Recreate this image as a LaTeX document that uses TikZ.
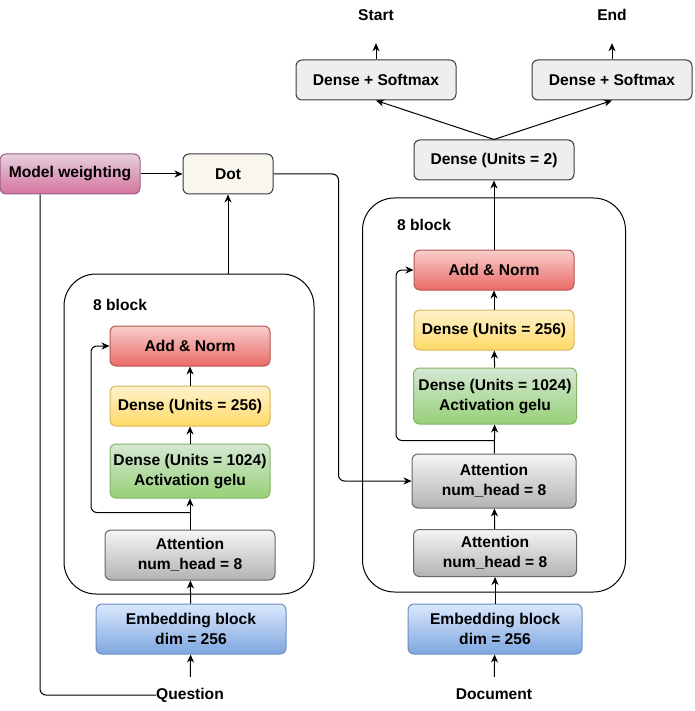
\documentclass[tikz,border=0pt]{standalone}
\usepackage{fontspec}
\setmainfont{Liberation Sans}
\usetikzlibrary{arrows.meta,calc}
\definecolor{pinktop}{HTML}{E6D0DE}
\definecolor{pinkbot}{HTML}{D5739D}
\definecolor{pinkline}{HTML}{996185}
\definecolor{dotfill}{HTML}{F9F7ED}
\definecolor{darkline}{HTML}{36393D}
\definecolor{redtop}{HTML}{F8CECC}
\definecolor{redbot}{HTML}{EA6B66}
\definecolor{redline}{HTML}{B85450}
\definecolor{yeltop}{HTML}{FFF2CC}
\definecolor{yelbot}{HTML}{FFD966}
\definecolor{yelline}{HTML}{D6B656}
\definecolor{grntop}{HTML}{D5E8D4}
\definecolor{grnbot}{HTML}{97D077}
\definecolor{grnline}{HTML}{82B366}
\definecolor{graytop}{HTML}{F5F5F5}
\definecolor{graybot}{HTML}{B3B3B3}
\definecolor{grayline}{HTML}{666666}
\definecolor{bluetop}{HTML}{DAE8FC}
\definecolor{bluebot}{HTML}{7EA6E0}
\definecolor{blueline}{HTML}{6C8EBF}
\definecolor{softfill}{HTML}{EEEEEE}

\begin{document}
\begin{tikzpicture}[x=1pt,y=-1pt]
\tikzstyle{main}=[rectangle, rounded corners=6pt, draw, line width=1pt, align=center, inner sep=0pt, font=\fontsize{15.6}{20}\selectfont\bfseries, minimum width=160pt, minimum height=40pt]
\tikzstyle{pinkbox}=[main, draw=pinkline, top color=pinktop, bottom color=pinkbot]
\tikzstyle{dotbox}=[main, draw=darkline, fill=dotfill]
\tikzstyle{softbox}=[main, draw=darkline, fill=softfill]
\tikzstyle{addbox}=[main, draw=redline, top color=redtop, bottom color=redbot]
\tikzstyle{densebox}=[main, draw=yelline, top color=yeltop, bottom color=yelbot]
\tikzstyle{actbox}=[main, draw=grnline, top color=grntop, bottom color=grnbot]
\tikzstyle{attbox}=[main, draw=grayline, top color=graytop, bottom color=graybot]
\tikzstyle{embbox}=[main, draw=blueline, top color=bluetop, bottom color=bluebot]
\tikzstyle{blockbox}=[rectangle, rounded corners=32pt, draw=black, line width=1pt]
\tikzstyle{txt}=[inner sep=0pt, font=\fontsize{15.6}{20}\selectfont\bfseries, text height=11pt, text depth=3pt]
\tikzstyle{connect}=[-{Stealth[length=8pt,width=7pt,inset=2.5pt]}, line width=1pt]

  \useasboundingbox (0,0) rectangle (694,711);

  \node[blockbox, minimum width=250pt, minimum height=320pt] (blockL) at (189,434) {};
  \node[blockbox, minimum width=263pt, minimum height=394pt] (blockR) at (494,395) {};
  \node[txt, anchor=west] (nblockL) at (93,306) {8 block};
  \node[txt, anchor=west] (nblockR) at (397,226) {8 block};

  \node[pinkbox, minimum width=140pt] (weight) at (70,174)  {Model weighting};
  \node[dotbox, minimum width=90pt]   (dot)    at (228,174) {Dot};

  \node[addbox]   (addL)   at (190,346) {Add \& Norm};
  \node[densebox] (denseL) at (190,406) {Dense (Units = 256)};
  \node[actbox, minimum height=54pt]  (actL) at (190,471)   {Dense (Units = 1024)\\Activation gelu};
  \node[attbox, minimum width=170pt, minimum height=50pt] (attL) at (190,555) {Attention\\num\_head = 8};
  \node[embbox, minimum width=190pt, minimum height=50pt] (embL) at (191,629) {Embedding block\\dim = 256};
  \node[txt] (question) at (190,695) {Question};

  \node[txt] (start) at (376,17)  {Start};
  \node[txt] (end)   at (612,17)  {End};
  \node[softbox] (softL) at (376,80)  {Dense + Softmax};
  \node[softbox] (softR) at (612,80)  {Dense + Softmax};
  \node[softbox] (dense2) at (494,160) {Dense (Units = 2)};

  \node[addbox]   (addR)   at (494,270) {Add \& Norm};
  \node[densebox] (denseR) at (494,330) {Dense (Units = 256)};
  \node[actbox, minimum width=163pt, minimum height=56pt] (actR) at (495,396) {Dense (Units = 1024)\\Activation gelu};
  \node[attbox, minimum width=164pt, minimum height=54pt] (attR) at (494,481) {Attention\\num\_head = 8};
  \node[attbox, minimum width=163pt, minimum height=47pt] (attRR) at (495,553) {Attention\\num\_head = 8};
  \node[embbox, minimum width=174pt, minimum height=50pt] (embR) at (495,629) {Embedding block\\dim = 256};
  \node[txt] (document) at (494,695) {Document};

  \path (weight) edge [connect] (dot);
  \draw[line width=1pt, rounded corners=6pt] ([xshift=-30pt]weight.south) |- (question.west);
  \draw[connect] (blockL.north -| dot.south) -- (dot.south);
  \draw[connect, rounded corners=6pt] (dot.east) -- ++(65,0) |- (attR.west);

  \path (question) edge [connect, shorten <=11pt] (embL);
  \path (embL) edge [connect] (attL);
  \path (attL) edge [connect] (actL);
  \path (actL) edge [connect] (denseL);
  \path (denseL) edge [connect] (addL);
  \draw[connect, rounded corners=6pt] (attL.north) ++(0,-17) -- ++(-99,0) |- (addL.west);

  \path (document) edge [connect, shorten <=11pt] (embR);
  \path (embR) edge [connect] (attRR);
  \path (attRR) edge [connect] (attR);
  \path (attR) edge [connect] (actR);
  \path (actR) edge [connect] (denseR);
  \path (denseR) edge [connect] (addR);
  \draw[connect, rounded corners=6pt] (attR.north) ++(0,-13) -- ++(-98,0) |- (addR.west);
  \path (addR) edge [connect] (dense2);

  \draw[connect] (dense2.north) -- (softL.south);
  \draw[connect] (dense2.north) -- (softR.south);
  \path (softL) edge [connect, shorten >=19pt] (start);
  \path (softR) edge [connect, shorten >=19pt] (end);

\end{tikzpicture}
\end{document}
